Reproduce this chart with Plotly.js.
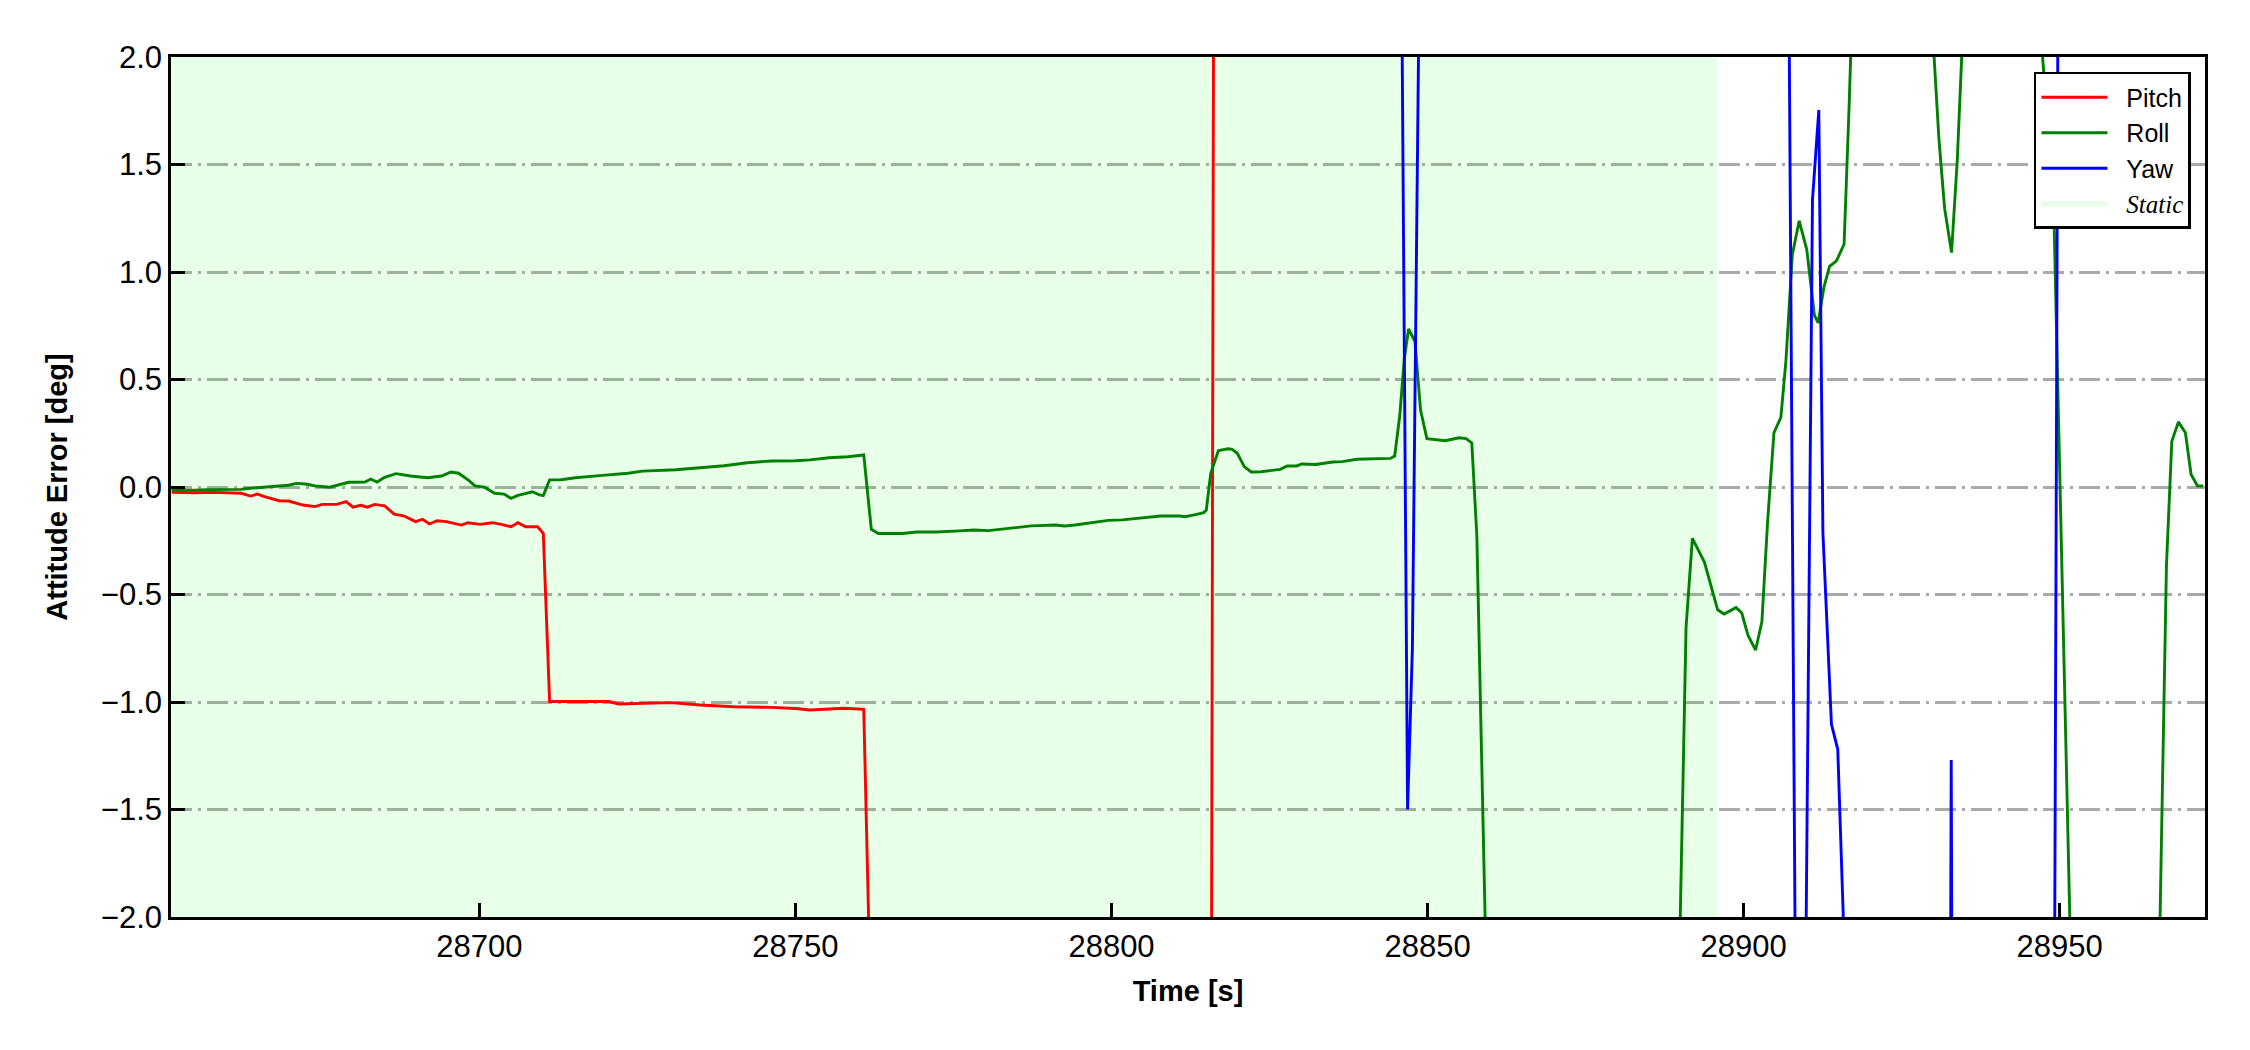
<!DOCTYPE html>
<html>
<head>
<meta charset="utf-8">
<script src="https://cdn.plot.ly/plotly-3.0.1.min.js"></script>
<style>
  html, body { margin: 0; padding: 0; background: #ffffff; }
  #chart { width: 2250px; height: 1050px; }
</style>
</head>
<body>
<div id="chart"></div>
<script>
// ---------------- data ----------------
const pitchTime = [28651.3, 28655.0, 28658.0, 28662.3, 28663.8, 28664.9, 28666.0, 28668.3, 28669.8, 28672.1,
  28674.0, 28675.1, 28677.4, 28678.9, 28680.0, 28681.2, 28682.3, 28683.4, 28685.0, 28686.5,
  28688.0, 28689.9, 28691.0, 28692.1, 28693.3, 28694.8, 28697.1, 28698.2, 28700.1, 28702.0,
  28703.5, 28705.0, 28706.1, 28707.3, 28709.2, 28710.1, 28711.1, 28713.7, 28716.0, 28720.5,
  28722.0, 28726.0, 28730.3, 28734.9, 28740.2, 28746.2, 28750.0, 28752.3, 28755.0, 28757.6,
  28760.8, 28761.8, 28763.0, 28790.0, 28815.5, 28816.5, 28850.0, 28900.0, 28973.0];
const pitchValue = [-0.025, -0.027, -0.025, -0.029, -0.042, -0.033, -0.045, -0.064, -0.065, -0.084,
  -0.091, -0.081, -0.081, -0.068, -0.094, -0.085, -0.094, -0.081, -0.088, -0.126,
  -0.134, -0.161, -0.150, -0.172, -0.157, -0.161, -0.177, -0.166, -0.174, -0.166,
  -0.174, -0.185, -0.166, -0.185, -0.185, -0.215, -0.998, -0.998, -1.000, -0.998,
  -1.009, -1.006, -1.003, -1.014, -1.022, -1.025, -1.030, -1.037, -1.033, -1.029,
  -1.034, -2.3, -6.0, -7.5, -6.5, 7.0, 8.0, 7.5, 8.5];

const rollTime = [28651.3, 28654.0, 28657.0, 28660.0, 28662.3, 28663.0, 28666.0, 28668.3, 28669.8, 28671.0,
  28672.5, 28674.0, 28676.3, 28678.1, 28679.3, 28681.9, 28682.8, 28683.8, 28685.0, 28686.8,
  28689.1, 28691.8, 28694.0, 28695.5, 28696.7, 28698.2, 28699.3, 28700.8, 28702.4, 28703.9,
  28705.0, 28706.1, 28707.7, 28708.4, 28709.5, 28710.1, 28711.1, 28712.9, 28715.2, 28717.5,
  28719.0, 28723.5, 28725.8, 28731.1, 28735.6, 28738.7, 28742.4, 28746.2, 28750.0, 28752.3,
  28755.3, 28758.3, 28760.8, 28762.0, 28763.1, 28766.9, 28769.2, 28772.2, 28775.2, 28778.3,
  28780.5, 28783.6, 28785.1, 28787.3, 28791.1, 28792.6, 28794.2, 28797.2, 28799.5, 28801.7,
  28804.0, 28805.5, 28807.8, 28810.8, 28811.6, 28813.1, 28814.6, 28815.0, 28815.7, 28816.9,
  28818.4, 28819.1, 28819.9, 28821.0, 28822.1, 28823.7, 28826.7, 28827.8, 28829.3, 28830.1,
  28832.3, 28835.0, 28836.5, 28838.8, 28840.3, 28844.1, 28844.8, 28845.6, 28846.3, 28847.0,
  28848.0, 28848.9, 28849.9, 28851.2, 28852.8, 28855.0, 28856.1, 28857.0, 28857.8, 28858.8,
  28859.8, 28870.0, 28885.0, 28889.9, 28890.9, 28891.9, 28893.8, 28895.9, 28896.9, 28898.8,
  28899.7, 28900.7, 28901.9, 28902.9, 28903.8, 28904.8, 28905.9, 28906.7, 28907.7, 28908.8,
  28910.0, 28911.2, 28911.8, 28912.7, 28913.6, 28914.7, 28915.9, 28916.7, 28917.7, 28922.0,
  28929.9, 28930.9, 28931.8, 28932.9, 28933.8, 28934.8, 28940.0, 28946.1, 28947.1, 28948.1,
  28949.1, 28950.1, 28951.1, 28952.1, 28960.0, 28965.8, 28966.9, 28967.75, 28968.8, 28969.9,
  28970.8, 28971.8, 28972.7];
const rollValue = [-0.014, -0.016, -0.012, -0.013, -0.011, -0.008, 0.001, 0.005, 0.008, 0.017,
  0.014, 0.005, -0.001, 0.013, 0.022, 0.023, 0.037, 0.023, 0.045, 0.062,
  0.051, 0.043, 0.051, 0.070, 0.064, 0.033, 0.005, -0.001, -0.029, -0.033,
  -0.053, -0.039, -0.029, -0.022, -0.037, -0.040, 0.033, 0.034, 0.043, 0.047,
  0.053, 0.064, 0.074, 0.080, 0.090, 0.099, 0.113, 0.121, 0.122, 0.126,
  0.136, 0.141, 0.149, -0.197, -0.216, -0.216, -0.209, -0.209, -0.205, -0.200,
  -0.203, -0.192, -0.188, -0.181, -0.177, -0.181, -0.177, -0.163, -0.155, -0.153,
  -0.146, -0.141, -0.135, -0.135, -0.138, -0.130, -0.119, -0.107, 0.064, 0.169,
  0.178, 0.175, 0.157, 0.095, 0.070, 0.071, 0.082, 0.098, 0.098, 0.107,
  0.105, 0.116, 0.118, 0.129, 0.130, 0.133, 0.144, 0.330, 0.591, 0.735,
  0.678, 0.357, 0.225, 0.219, 0.215, 0.229, 0.225, 0.205, -0.228, -1.59,
  -2.95, -4.0, -3.5, -2.12, -0.652, -0.239, -0.349, -0.571, -0.591, -0.561,
  -0.585, -0.690, -0.758, -0.626, -0.161, 0.252, 0.324, 0.587, 1.078, 1.238,
  1.103, 0.799, 0.763, 0.928, 1.026, 1.052, 1.129, 1.774, 2.7, 3.5,
  2.12, 1.62, 1.297, 1.09, 1.516, 2.2, 3.0, 2.5, 2.08, 1.67,
  1.26, -0.04, -1.34, -2.64, -4.0, -2.15, -0.367, 0.213, 0.303, 0.252,
  0.058, 0.006, 0.005];

const yawTime = [28651.2, 28700.0, 28760.0, 28820.0, 28845.8, 28846.84, 28847.6, 28848.6, 28849.6, 28880.0,
  28906.9, 28908.4, 28909.7, 28910.9, 28911.9, 28912.55, 28913.9, 28914.9, 28916.0, 28920.0,
  28931.9, 28932.85, 28933.8, 28940.0, 28949.0, 28950.0, 28960.0, 28973.0];
const yawValue = [5.5, 6.0, 6.5, 5.0, 2.8, -1.5, -0.753, 2.1, 6.0, 7.0,
  3.5, -3.2, -2.7, 1.336, 1.753, -0.213, -1.104, -1.22, -2.2, -6.0,
  -10.0, -1.27, -10.0, -8.0, -4.0, 4.5, 6.0, 6.5];

const staticInterval = [28651.2, 28895.8];   // static period [s]
const timeRange = [28651.2, 28973.0];
const errorRange = [-2.0, 2.0];
const xTickValues = [28700, 28750, 28800, 28850, 28900, 28950];
const yTickValues = [-2.0, -1.5, -1.0, -0.5, 0.0, 0.5, 1.0, 1.5, 2.0];
const seriesNames = ['Pitch', 'Roll', 'Yaw', 'Static'];
// -----------------------------------------------------------------

const FONT = '"Liberation Sans", Arial, Helvetica, sans-serif';
const PAD = '\u00a0\u00a0';

const traces = [
  {
    x: [staticInterval[0], staticInterval[1], staticInterval[1], staticInterval[0], staticInterval[0]],
    y: [errorRange[0], errorRange[0], errorRange[1], errorRange[1], errorRange[0]],
    type: 'scatter', mode: 'none', fill: 'toself',
    fillcolor: 'rgba(0,255,0,0.09)',
    name: PAD + '<span style="font-family:\'Liberation Serif\', \'Times New Roman\', serif;"><i>' + seriesNames[3] + '</i></span>',
    legendrank: 4, hoverinfo: 'skip'
  },
  { x: pitchTime, y: pitchValue, type: 'scatter', mode: 'lines', name: PAD + seriesNames[0],
    line: { color: '#ff0000', width: 2.9 }, legendrank: 1 },
  { x: rollTime, y: rollValue, type: 'scatter', mode: 'lines', name: PAD + seriesNames[1],
    line: { color: '#008000', width: 2.9 }, legendrank: 2 },
  { x: yawTime, y: yawValue, type: 'scatter', mode: 'lines', name: PAD + seriesNames[2],
    line: { color: '#0000ff', width: 2.9 }, legendrank: 3 }
];

const layout = {
  width: 2250, height: 1050,
  margin: { l: 171, r: 45, t: 57, b: 133, pad: 0 },
  paper_bgcolor: '#ffffff', plot_bgcolor: '#ffffff',
  font: { family: FONT, color: '#000000', size: 31 },
  showlegend: true,
  legend: {
    x: 0.9931, xanchor: 'right', y: 0.9826, yanchor: 'top',
    bgcolor: '#ffffff', bordercolor: '#000000', borderwidth: 2.5,
    font: { family: FONT, size: 25, color: '#000000' },
    itemwidth: 66, tracegroupgap: 0
  },
  xaxis: {
    range: timeRange, autorange: false,
    tickmode: 'array', tickvals: xTickValues, tickformat: 'd',
    ticks: 'inside', ticklen: 14, tickwidth: 2.5, tickcolor: '#000000',
    showline: true, linecolor: '#000000', linewidth: 2.5, mirror: true,
    showgrid: false, zeroline: false,
    tickfont: { family: FONT, size: 31, color: '#000000' },
    title: { text: '<b>Time [s]</b>', font: { family: FONT, size: 29, color: '#000000' }, standoff: 18 },
    automargin: false
  },
  yaxis: {
    range: errorRange, autorange: false,
    tickmode: 'array', tickvals: yTickValues, tickformat: '.1f',
    ticks: 'inside', ticklen: 14, tickwidth: 2.5, tickcolor: '#000000',
    showline: true, linecolor: '#000000', linewidth: 2.5, mirror: true,
    showgrid: true, gridcolor: '#aaaaaa', gridwidth: 2.5, griddash: '21px,6px,3px,6px',
    zeroline: false,
    tickfont: { family: FONT, size: 31, color: '#000000' },
    title: { text: '<b>Attitude Error [deg]</b>', font: { family: FONT, size: 29, color: '#000000' }, standoff: 25 },
    automargin: false
  }
};

Plotly.newPlot('chart', traces, layout, { displayModeBar: false, responsive: false });
</script>
</body>
</html>
